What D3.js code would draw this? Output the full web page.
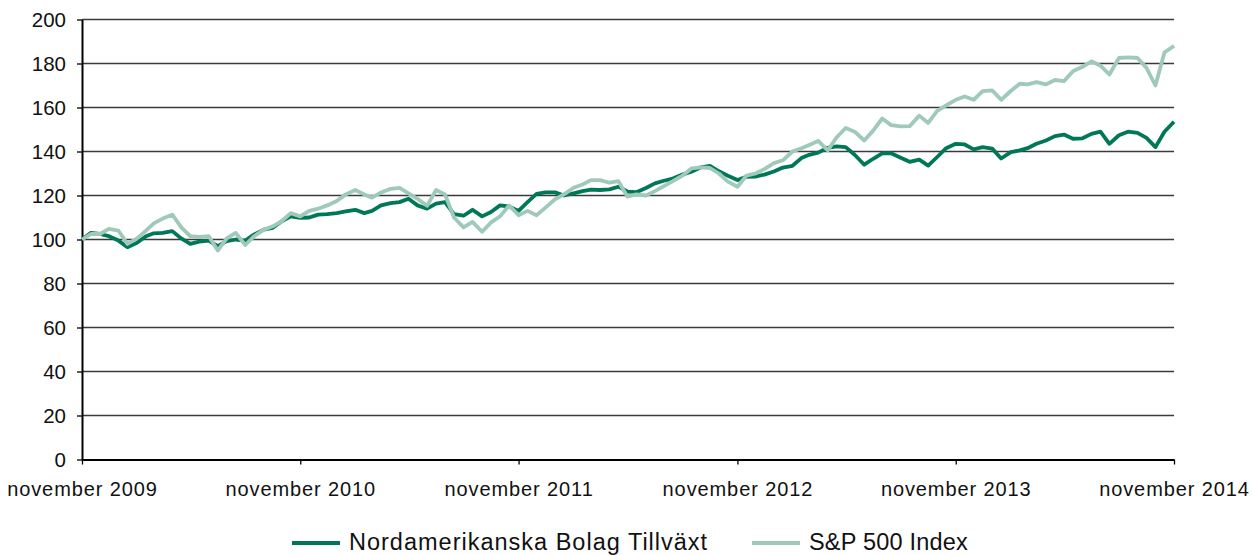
<!DOCTYPE html>
<html>
<head>
<meta charset="utf-8">
<script src="https://cdn.jsdelivr.net/npm/d3@7"></script>
<style>
  body { margin: 0; background: #fff; }
  svg { display: block; font-family: "Liberation Sans", Arial, sans-serif; }
  .axis path, .axis line { stroke: #000; }
  .axis text { fill: #111; }
</style>
</head>
<body>
<div id="chart"></div>
<script>
// semi-monthly observations, 1 nov 2009 - 1 nov 2014
var fundValues = [
  100, 103, 102.5, 101.5, 99.5, 96.5, 98.5, 101.5, 102.8, 103, 103.8, 100.5, 98, 99, 99.5, 97,
  99.3, 100, 99.5, 102.3, 104.5, 105.3, 108.3, 110.5, 109.8, 110, 111.3, 111.5, 112, 112.8, 113.5, 112,
  113, 115.5, 116.5, 117, 118.5, 115.5, 114, 116.3, 117, 111.5, 110.8, 113.5, 110.5, 112.5, 115.5, 115,
  113, 117, 120.7, 121.4, 121.4, 120, 121, 122, 122.7, 122.5, 122.8, 124, 121.8, 121.5, 123.4, 125.5,
  126.7, 127.7, 129.5, 130.8, 132.8, 133.5, 131, 129, 127, 128.5, 128.6, 129.5, 130.9, 132.7, 133.5, 137,
  138.5, 139.5, 141.7, 142.3, 142, 138.5, 134, 136.7, 139.2, 139.2, 137.2, 135.3, 136.3, 133.6, 137.5, 141.5,
  143.5, 143.2, 141, 142, 141.3, 136.8, 139.7, 140.5, 141.5, 143.5, 145, 147, 147.7, 145.8, 146, 148,
  149, 143.5, 147.4, 149, 148.5, 146.2, 142, 149, 153.5
];
var indexValues = [
  100, 102.5, 102.5, 104.8, 104, 98, 100.5, 104, 107.3, 109.5, 111.3, 105.5, 101.5, 101.2, 101.5, 95,
  100.5, 103, 97.5, 101.5, 104.5, 106, 108.3, 112, 110.5, 113, 114, 115.5, 117.5, 120.5, 122.5, 120.5,
  119, 121.4, 123, 123.5, 121, 118.5, 115.3, 122.5, 120.5, 110, 105.5, 108, 103.5, 107.8, 110.5, 115.5,
  111, 113, 111, 114.5, 118.3, 120.5, 123.5, 125, 127, 127, 125.8, 126.5, 119.5, 120.5, 120, 122,
  124.3, 126.5, 129, 132.3, 132.8, 132.5, 130, 126.3, 124, 129, 130, 132, 134.7, 136, 140, 141.5,
  143, 144.8, 140.5, 146.5, 150.7, 149, 145, 149.5, 155, 152, 151.4, 151.5, 156.3, 153, 158.5, 161,
  163.5, 165, 163.5, 167.4, 167.8, 163.5, 167.5, 170.8, 170.5, 171.5, 170.5, 172.5, 172, 176.5, 178.5, 181,
  179, 175, 182.5, 182.8, 182.5, 178, 170, 185, 188
];
var seriesNames = ["Nordamerikanska Bolag Tillväxt", "S&P 500 Index"];
var seriesColors = ["#007858", "#9fcab9"];
var yTicks = [0, 20, 40, 60, 80, 100, 120, 140, 160, 180, 200];
var tickYears = [2009, 2010, 2011, 2012, 2013, 2014];
var tickLabels = ["november 2009", "november 2010", "november 2011", "november 2012", "november 2013", "november 2014"];

var dates = [];
for (var k = 0; k < fundValues.length; k++) {
  var m = 10 + Math.floor(k / 2);
  dates.push(new Date(2009, m, k % 2 === 0 ? 1 : 16));
}

var width = 1253, height = 555;
var margin = {top: 19.5, right: 79, bottom: 95.5, left: 82};

var svg = d3.select('#chart').append('svg')
  .attr('width', width)
  .attr('height', height);

var x = d3.scaleTime()
  .domain([dates[0], dates[dates.length - 1]])
  .range([margin.left, width - margin.right]);
var y = d3.scaleLinear()
  .domain([0, 200])
  .range([height - margin.bottom, margin.top]);

// grid
svg.append('g')
  .selectAll('line')
  .data(yTicks.slice(1))
  .enter().append('line')
  .attr('x1', margin.left)
  .attr('x2', width - margin.right)
  .attr('y1', function(d) { return y(d); })
  .attr('y2', function(d) { return y(d); })
  .attr('stroke', '#3a3a3a')
  .attr('stroke-width', 1.3);

var tickDates = tickYears.map(function(yr) { return new Date(yr, 10, 1); });

svg.append('g')
  .attr('class', 'axis')
  .attr('transform', 'translate(0,' + y(0) + ')')
  .call(d3.axisBottom(x).tickValues(tickDates).tickSize(5).tickSizeOuter(0).tickPadding(17)
    .tickFormat(function(d, i) { return tickLabels[i]; }))
  .call(function(g) {
    g.select('.domain').attr('stroke-width', 2);
    g.selectAll('.tick line').attr('stroke-width', 1.3);
    g.selectAll('text').attr('font-size', 20).attr('letter-spacing', 0.9);
  });

svg.append('g')
  .attr('class', 'axis')
  .attr('transform', 'translate(' + margin.left + ',0)')
  .call(d3.axisLeft(y).tickValues(yTicks).tickSize(5).tickSizeOuter(0).tickPadding(11))
  .call(function(g) {
    g.select('.domain').attr('stroke-width', 2);
    g.selectAll('.tick line').attr('stroke-width', 1.3);
    g.selectAll('text').attr('font-size', 20.5);
  });

var line = d3.line()
  .x(function(d, i) { return x(dates[i]); })
  .y(function(d) { return y(d); });

[fundValues, indexValues].forEach(function(vals, s) {
  svg.append('path')
    .datum(vals)
    .attr('fill', 'none')
    .attr('stroke', seriesColors[s])
    .attr('stroke-width', 3.8)
    .attr('stroke-linejoin', 'round')
    .attr('d', line);
});

// legend
var legendX = [292, 752];
var legendSpacing = [1, 0.2];
var legend = svg.append('g');
seriesNames.forEach(function(name, s) {
  legend.append('line')
    .attr('x1', legendX[s]).attr('x2', legendX[s] + 48)
    .attr('y1', 543).attr('y2', 543)
    .attr('stroke', seriesColors[s])
    .attr('stroke-width', 4);
  legend.append('text')
    .attr('x', legendX[s] + 57)
    .attr('y', 550)
    .attr('font-size', 23.5)
    .attr('letter-spacing', legendSpacing[s])
    .attr('fill', '#111')
    .text(name);
});
</script>
</body>
</html>
